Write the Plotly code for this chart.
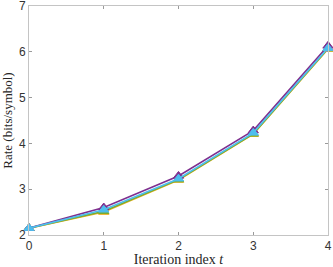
import plotly.graph_objects as go

iterations = [0, 1, 2, 3, 4]
rate_yellow = [2.15, 2.50, 3.20, 4.20, 6.06]
rate_green = [2.15, 2.52, 3.21, 4.21, 6.07]
rate_purple = [2.15, 2.60, 3.29, 4.28, 6.13]
rate_cyan = [2.15, 2.55, 3.23, 4.23, 6.08]

series = [
    ("yellow", rate_yellow, "#EDB120"),
    ("green", rate_green, "#77AC30"),
    ("purple", rate_purple, "#7E2F8E"),
    ("cyan", rate_cyan, "#4DBEEE"),
]

fig = go.Figure()
for name, vals, col in series:
    fig.add_trace(go.Scatter(
        x=iterations, y=vals, mode="lines+markers", name=name,
        line=dict(color=col, width=1.6),
        marker=dict(symbol="triangle-up", size=9, color=col,
                    line=dict(color=col, width=1)),
        showlegend=False, cliponaxis=False,
    ))

axis_common = dict(
    showgrid=False, zeroline=False, showline=True, linecolor="#c4c4c4",
    linewidth=1, mirror="ticks", ticks="inside", ticklen=3,
    tickcolor="#9a9a9a", ticklabeloverflow="allow", automargin=False,
    tickfont=dict(family="Liberation Sans, Arial", size=12, color="#333333"),
)

fig.update_layout(
    width=333, height=267,
    margin=dict(l=29, r=5, t=6, b=32),
    plot_bgcolor="white", paper_bgcolor="white",
    xaxis=dict(range=[0, 4], tickvals=[0, 1, 2, 3, 4],
               title=dict(text="Iteration index <i>t</i>",
                          font=dict(family="Liberation Serif, DejaVu Serif", size=14, color="#262626")),
               **axis_common),
    yaxis=dict(range=[2, 7], tickvals=[2, 3, 4, 5, 6, 7],
               title=dict(text="Rate (bits/symbol)",
                          font=dict(family="Liberation Serif, DejaVu Serif", size=13, color="#262626")),
               **axis_common),
)

fig.write_html("out.html", config={"displayModeBar": False},
               post_script="document.body.style.margin='0';document.body.style.padding='0';document.body.style.overflow='hidden';")
